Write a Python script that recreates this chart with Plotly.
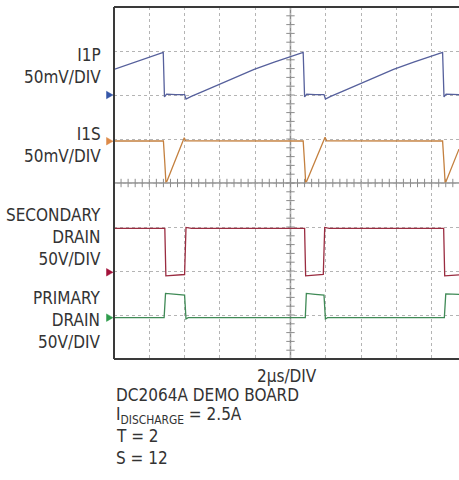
import numpy as np
import plotly.graph_objects as go

# ---------------- data (time in µs, values in screen divisions) ----------------
I1P_t = [0, 1.14, 2.14, 2.79, 2.86, 2.92, 2.98, 3.5, 4.00, 4.08, 4.38, 5.08, 6.08, 7.08, 7.94, 9.08,
         10.08, 10.72, 10.80, 10.86, 10.92, 11.4, 11.90, 11.98, 12.28, 12.98, 13.98, 14.98, 15.84,
         16.98, 17.98, 18.62, 18.70, 18.76, 18.82, 19.55]
I1P_v = [2.58, 2.745, 2.885, 2.97, 1.955, 2.00, 2.02, 2.01, 2.01, 1.91, 1.97, 2.09, 2.26, 2.43, 2.58, 2.745,
         2.885, 2.97, 1.955, 2.00, 2.02, 2.01, 2.01, 1.91, 1.97, 2.09, 2.26, 2.43, 2.58,
         2.745, 2.885, 2.97, 1.955, 2.00, 2.02, 2.01]

I1S_t = [0, 2.80, 2.88, 2.94, 3.00, 3.98, 4.06, 10.72, 10.80, 10.86, 10.92, 11.96, 12.04,
         18.62, 18.70, 18.76, 18.82, 19.55]
I1S_v = [0.955, 0.955, 0.45, 0.03, 0.04, 1.03, 0.96, 0.955, 0.45, 0.03, 0.04, 1.04, 0.96,
         0.955, 0.45, 0.03, 0.04, 0.77]

SEC_t = [0, 2.88, 2.94, 4.00, 4.08, 4.40, 10.80, 10.86, 11.86, 11.94, 12.20, 18.68, 18.74, 19.55]
SEC_v = [-1.03, -1.03, -2.11, -2.08, -1.01, -1.03, -1.03, -2.11, -2.08, -1.01, -1.03, -1.03, -2.11, -2.09]

PRI_t = [0, 2.84, 2.92, 3.4, 4.00, 4.08, 4.20, 10.84, 10.90, 11.4, 11.90, 11.98, 12.10, 18.72, 18.80, 19.55]
PRI_v = [-3.06, -3.06, -2.51, -2.53, -2.55, -3.09, -3.06, -3.06, -2.51, -2.53, -2.55, -3.09, -3.06,
         -3.06, -2.52, -2.53]

channel_names = ["I1P", "I1S", "SECONDARY DRAIN", "PRIMARY DRAIN"]
channel_labels = ["I1P<br>50mV/DIV", "I1S<br>50mV/DIV", "SECONDARY<br>DRAIN<br>50V/DIV", "PRIMARY<br>DRAIN<br>50V/DIV"]
ground_levels = [2.0, 0.95, -2.03, -3.06]
x_label = "2µs/DIV"
notes = ["DC2064A DEMO BOARD", "I<sub>DISCHARGE</sub> = 2.5A", "T = 2", "S = 12"]

# ---------------- styling ----------------
FONT = "DejaVu Sans Condensed, Liberation Sans Narrow, Arial Narrow, sans-serif"
FS = 17
TXT = "#333333"
AX = "#8c8c8c"
line_colors = ["#56609c", "#c4803f", "#9a2c40", "#3f8a56"]
marker_colors = ["#3556a8", "#dd8a48", "#a3123a", "#2f9c4c"]
XMAX = 19.55
fig = go.Figure()

# center-axis tick marks
hx = np.arange(0, XMAX, 0.4)
vy = np.arange(-4, 4.001, 0.2)
fig.add_trace(go.Scatter(x=hx, y=np.zeros_like(hx), mode="markers", hoverinfo="skip", showlegend=False,
                         marker=dict(symbol="line-ns-open", size=6, color=AX, line=dict(width=1, color=AX))))
fig.add_trace(go.Scatter(x=np.full_like(vy, 10.0), y=vy, mode="markers", hoverinfo="skip", showlegend=False,
                         marker=dict(symbol="line-ew-open", size=6, color=AX, line=dict(width=1, color=AX))))

for name, t, v, c in zip(channel_names, [I1P_t, I1S_t, SEC_t, PRI_t], [I1P_v, I1S_v, SEC_v, PRI_v], line_colors):
    fig.add_trace(go.Scatter(x=t, y=v, mode="lines", name=name, showlegend=False,
                             line=dict(color=c, width=1.3)))

# ground-level markers (triangles just left of the frame, at each channel's level)
PW = 345.0
x_tip, x_back = (113 - 114) / PW, (106.5 - 114) / PW
for lvl, mc in zip(ground_levels, marker_colors):
    fig.add_shape(type="path", xref="paper", yref="y",
                  path=f"M {x_back},{lvl + 0.085} L {x_tip},{lvl} L {x_back},{lvl - 0.085} Z",
                  fillcolor=mc, line=dict(color=mc, width=0.5), layer="above")

# center lines
fig.add_shape(type="line", xref="x", yref="paper", x0=10, x1=10, y0=0, y1=1,
              line=dict(color=AX, width=1.5), layer="between")
fig.add_shape(type="line", xref="paper", yref="y", x0=0, x1=1, y0=0, y1=0,
              line=dict(color=AX, width=1.5), layer="between")
# frame (right side is outside the picture)
for (x0, y0, x1, y1) in [(0, 1, 1, 1), (0, 0, 1, 0), (0, 0, 0, 1)]:
    fig.add_shape(type="line", xref="paper", yref="paper", x0=x0, y0=y0, x1=x1, y1=y1,
                  line=dict(color="#3a3a3a", width=2), layer="above")

# labels
PH = 352.0
def py(p):
    return (359 - p) / PH
label_centers = [65.8, 145, 236.6, 319.5]
for lab, yc in zip(channel_labels, label_centers):
    fig.add_annotation(text=lab, xref="paper", yref="paper", x=(103 - 114) / PW, y=py(yc),
                       xanchor="right", yanchor="middle", align="right", showarrow=False,
                       font=dict(family=FONT, size=FS, color=TXT))
fig.add_annotation(text=x_label, xref="paper", yref="paper", x=(287 - 114) / PW, y=py(376),
                   xanchor="center", yanchor="middle", showarrow=False,
                   font=dict(family=FONT, size=FS, color=TXT))
for note, yc in zip(notes, [394.5, 415, 436, 458]):
    fig.add_annotation(text=note, xref="paper", yref="paper", x=0, y=py(yc),
                       xanchor="left", yanchor="middle", align="left", showarrow=False,
                       font=dict(family=FONT, size=FS, color=TXT))

grid = dict(showgrid=True, gridcolor="#b4b4b4", gridwidth=1, griddash="dot",
            zeroline=False, showticklabels=False, ticks="", showline=False, fixedrange=True)
fig.update_layout(
    width=459, height=480, margin=dict(l=114, r=0, t=7, b=121),
    paper_bgcolor="white", plot_bgcolor="white",
    xaxis=dict(range=[0, XMAX], dtick=2, tick0=0, **grid),
    yaxis=dict(range=[-4, 4], dtick=1, tick0=0, **grid),
    showlegend=False,
)
fig.write_html("out.html", config={"displayModeBar": False},
               post_script="document.body.style.margin='0';")
